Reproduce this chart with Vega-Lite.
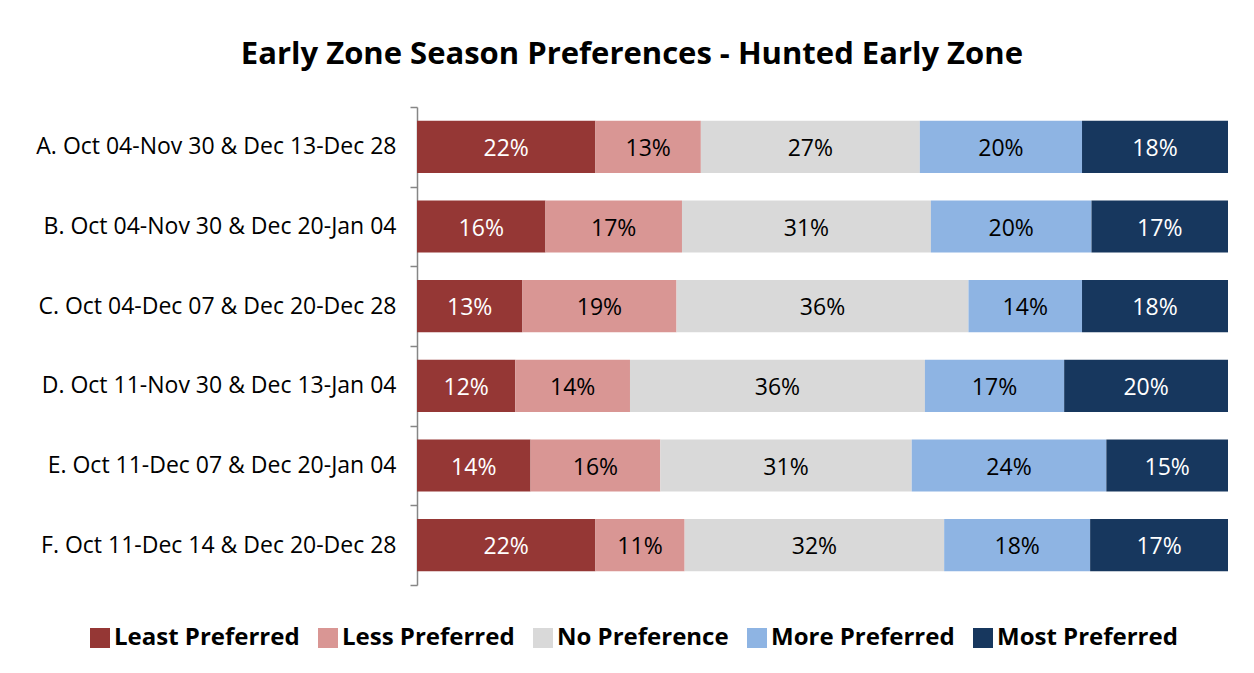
{
  "$schema": "https://vega.github.io/schema/vega-lite/v6.json",
  "width": 811,
  "height": 478,
  "autosize": {"type": "none"},
  "padding": {"left": 417, "top": 107, "right": 26, "bottom": 88},
  "background": "white",
  "config": {"view": {"stroke": null}, "font": "Open Sans"},
  "title": {
    "text": "Early Zone Season Preferences - Hunted Early Zone",
    "fontSize": 31,
    "font": "Open Sans",
    "fontWeight": "bold",
    "color": "black",
    "anchor": "middle",
    "frame": "bounds",
    "offset": 25
  },
  "data": {
    "values": [
      {"option": "A. Oct 04-Nov 30 & Dec 13-Dec 28", "pref": "Least Preferred", "ord": 1, "pct": 0.22},
      {"option": "A. Oct 04-Nov 30 & Dec 13-Dec 28", "pref": "Less Preferred", "ord": 2, "pct": 0.13},
      {"option": "A. Oct 04-Nov 30 & Dec 13-Dec 28", "pref": "No Preference", "ord": 3, "pct": 0.27},
      {"option": "A. Oct 04-Nov 30 & Dec 13-Dec 28", "pref": "More Preferred", "ord": 4, "pct": 0.20},
      {"option": "A. Oct 04-Nov 30 & Dec 13-Dec 28", "pref": "Most Preferred", "ord": 5, "pct": 0.18},
      {"option": "B. Oct 04-Nov 30 & Dec 20-Jan 04", "pref": "Least Preferred", "ord": 1, "pct": 0.16},
      {"option": "B. Oct 04-Nov 30 & Dec 20-Jan 04", "pref": "Less Preferred", "ord": 2, "pct": 0.17},
      {"option": "B. Oct 04-Nov 30 & Dec 20-Jan 04", "pref": "No Preference", "ord": 3, "pct": 0.31},
      {"option": "B. Oct 04-Nov 30 & Dec 20-Jan 04", "pref": "More Preferred", "ord": 4, "pct": 0.20},
      {"option": "B. Oct 04-Nov 30 & Dec 20-Jan 04", "pref": "Most Preferred", "ord": 5, "pct": 0.17},
      {"option": "C. Oct 04-Dec 07 & Dec 20-Dec 28", "pref": "Least Preferred", "ord": 1, "pct": 0.13},
      {"option": "C. Oct 04-Dec 07 & Dec 20-Dec 28", "pref": "Less Preferred", "ord": 2, "pct": 0.19},
      {"option": "C. Oct 04-Dec 07 & Dec 20-Dec 28", "pref": "No Preference", "ord": 3, "pct": 0.36},
      {"option": "C. Oct 04-Dec 07 & Dec 20-Dec 28", "pref": "More Preferred", "ord": 4, "pct": 0.14},
      {"option": "C. Oct 04-Dec 07 & Dec 20-Dec 28", "pref": "Most Preferred", "ord": 5, "pct": 0.18},
      {"option": "D. Oct 11-Nov 30 & Dec 13-Jan 04", "pref": "Least Preferred", "ord": 1, "pct": 0.12},
      {"option": "D. Oct 11-Nov 30 & Dec 13-Jan 04", "pref": "Less Preferred", "ord": 2, "pct": 0.14},
      {"option": "D. Oct 11-Nov 30 & Dec 13-Jan 04", "pref": "No Preference", "ord": 3, "pct": 0.36},
      {"option": "D. Oct 11-Nov 30 & Dec 13-Jan 04", "pref": "More Preferred", "ord": 4, "pct": 0.17},
      {"option": "D. Oct 11-Nov 30 & Dec 13-Jan 04", "pref": "Most Preferred", "ord": 5, "pct": 0.20},
      {"option": "E. Oct 11-Dec 07 & Dec 20-Jan 04", "pref": "Least Preferred", "ord": 1, "pct": 0.14},
      {"option": "E. Oct 11-Dec 07 & Dec 20-Jan 04", "pref": "Less Preferred", "ord": 2, "pct": 0.16},
      {"option": "E. Oct 11-Dec 07 & Dec 20-Jan 04", "pref": "No Preference", "ord": 3, "pct": 0.31},
      {"option": "E. Oct 11-Dec 07 & Dec 20-Jan 04", "pref": "More Preferred", "ord": 4, "pct": 0.24},
      {"option": "E. Oct 11-Dec 07 & Dec 20-Jan 04", "pref": "Most Preferred", "ord": 5, "pct": 0.15},
      {"option": "F. Oct 11-Dec 14 & Dec 20-Dec 28", "pref": "Least Preferred", "ord": 1, "pct": 0.22},
      {"option": "F. Oct 11-Dec 14 & Dec 20-Dec 28", "pref": "Less Preferred", "ord": 2, "pct": 0.11},
      {"option": "F. Oct 11-Dec 14 & Dec 20-Dec 28", "pref": "No Preference", "ord": 3, "pct": 0.32},
      {"option": "F. Oct 11-Dec 14 & Dec 20-Dec 28", "pref": "More Preferred", "ord": 4, "pct": 0.18},
      {"option": "F. Oct 11-Dec 14 & Dec 20-Dec 28", "pref": "Most Preferred", "ord": 5, "pct": 0.17}
    ]
  },
  "encoding": {
    "y": {
      "field": "option",
      "type": "nominal",
      "title": null,
      "scale": {"paddingInner": 0, "paddingOuter": 0},
      "axis": {
        "tickBand": "extent",
        "domainColor": "#868686",
        "tickColor": "#868686",
        "domainWidth": 1.5,
        "tickWidth": 1.5,
        "tickSize": 7,
        "labelFontSize": 23,
        "labelFont": "Open Sans",
        "labelColor": "black",
        "labelPadding": 14,
        "labelLimit": 420
      }
    },
    "x": {
      "field": "pct",
      "type": "quantitative",
      "stack": "normalize",
      "scale": {"domain": [0, 1], "nice": false},
      "axis": null
    },
    "order": {"field": "ord", "type": "quantitative", "sort": "ascending"}
  },
  "layer": [
    {
      "mark": {"type": "bar", "height": {"band": 0.655}},
      "encoding": {
        "color": {
          "field": "pref",
          "type": "nominal",
          "sort": ["Least Preferred", "Less Preferred", "No Preference", "More Preferred", "Most Preferred"],
          "scale": {
            "domain": ["Least Preferred", "Less Preferred", "No Preference", "More Preferred", "Most Preferred"],
            "range": ["#953735", "#D99694", "#D9D9D9", "#8EB4E3", "#17375E"]
          },
          "legend": {
            "title": null,
            "orient": "none",
            "direction": "horizontal",
            "legendX": -329,
            "legendY": 519,
            "symbolType": "square",
            "symbolSize": 400,
            "symbolStrokeWidth": 0,
            "labelFontSize": 24,
            "labelFont": "Open Sans",
            "labelFontWeight": "bold",
            "labelColor": "black",
            "labelOffset": 2,
            "columnPadding": 16,
            "labelLimit": 300
          }
        }
      }
    },
    {
      "mark": {"type": "text", "fontSize": 23, "font": "Open Sans", "dy": 2},
      "encoding": {
        "x": {
          "field": "pct",
          "type": "quantitative",
          "stack": "normalize",
          "bandPosition": 0.5
        },
        "text": {"field": "pct", "type": "quantitative", "format": ".0%"},
        "color": {
          "condition": {"test": "datum.pref === 'Least Preferred' || datum.pref === 'Most Preferred'", "value": "white"},
          "value": "black"
        }
      }
    }
  ]
}
